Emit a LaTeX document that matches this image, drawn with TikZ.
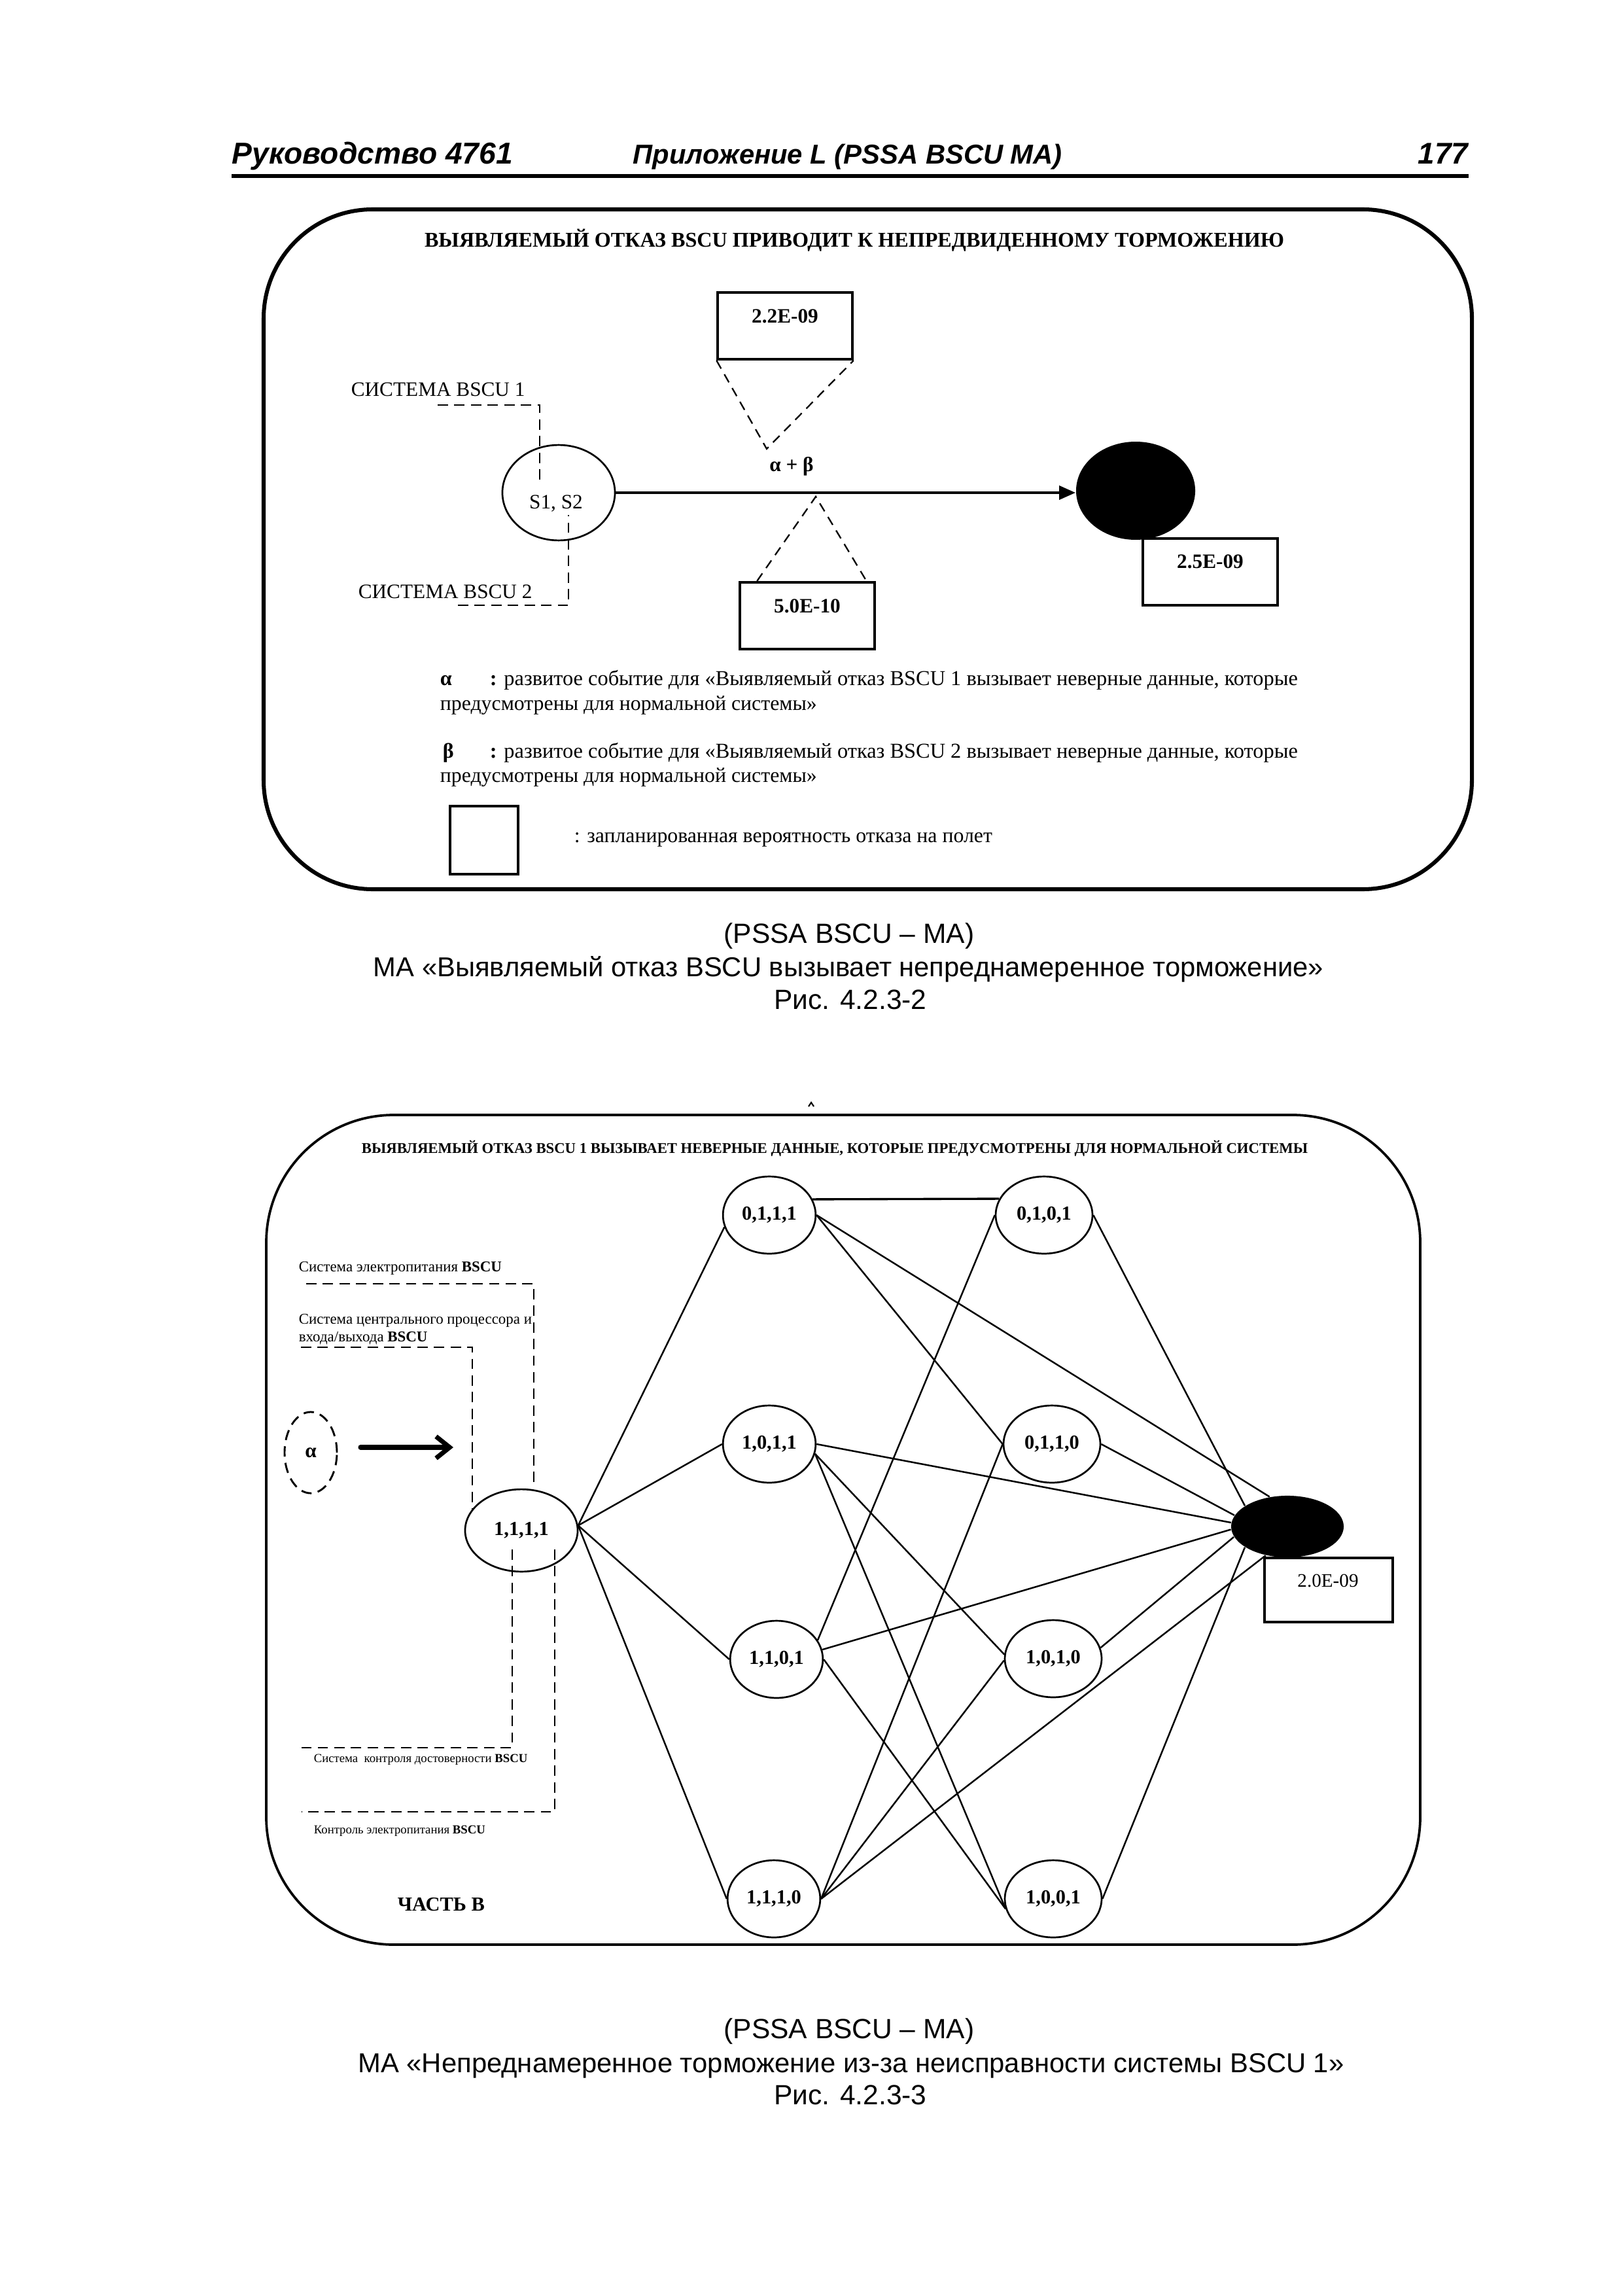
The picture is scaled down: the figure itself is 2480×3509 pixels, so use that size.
\documentclass[tikz,border=0pt]{standalone}
\usepackage{fontspec}
\usepackage{graphicx}
\setmainfont{Liberation Serif}
\newfontfamily\arialf{Liberation Sans}
\usetikzlibrary{arrows.meta,shapes.geometric}
\newlength{\pxu}\setlength{\pxu}{0.24pt}
\newcommand{\fitw}[2]{\resizebox{#1\pxu}{!}{#2}}
\newcommand{\fsz}[1]{\fontsize{#1}{#1}\selectfont}
\tikzset{
  pbox/.style={draw, rectangle, line width=0.85pt, inner sep=0pt, minimum width=49.4pt, minimum height=24.6pt},
  ell/.style={draw, ellipse, line width=0.65pt, inner sep=0pt},
  sysdash/.style={line width=0.7pt, dash pattern=on 3.8pt off 2.3pt},
  thindash/.style={line width=0.55pt, dash pattern=on 3.4pt off 2.4pt},
  lnk/.style={line width=0.6pt},
  txt/.style={inner sep=0pt, anchor=base west},
  ctxt/.style={inner sep=0pt, anchor=base},
  stnode/.style={draw, ellipse, line width=0.65pt, inner sep=0pt, minimum width=34pt, minimum height=28.3pt, font=\bfseries\fsz{7.3}},
  blacknode/.style={ellipse, fill=black, inner sep=0pt}
}
\begin{document}
\begin{tikzpicture}[x=0.24pt, y=-0.24pt]
\fill[white] (0,0) rectangle (2480,3509);
\useasboundingbox (0,0) rectangle (2480,3509);

% ---------- header ----------
\node[txt, font=\arialf\bfseries\itshape\fsz{11}] (h1) at (354,251) {\fitw{429}{Руководство 4761}};
\node[txt, font=\arialf\bfseries\itshape\fsz{11}] (h2) at (967,251) {\fitw{656}{Приложение L (PSSA BSCU MA)}};
\node[inner sep=0pt, anchor=base east, font=\arialf\bfseries\itshape\fsz{11}] (h3) at (2245,251) {177};
\coordinate (r1) at (354,269);
\coordinate (r2) at (2245,269);
\draw[line width=1.4pt] (r1) -- (r2);

% ---------- top figure ----------
\draw[line width=1.45pt, rounded corners=40pt] (403,320) rectangle (2250,1359);
\node[ctxt, font=\bfseries\fsz{7.6}] (t1) at (1306,378) {\fitw{1314}{ВЫЯВЛЯЕМЫЙ ОТКАЗ BSCU ПРИВОДИТ К НЕПРЕДВИДЕННОМУ ТОРМОЖЕНИЮ}};

\node[pbox] (p1) at (1200,498) {};
\node[ctxt, font=\bfseries\fsz{7.5}] (p1t) at (1200,494) {2.2E-09};
\node[pbox] (p2) at (1850,874) {};
\node[ctxt, font=\bfseries\fsz{7.5}] (p2t) at (1850,868) {2.5E-09};
\node[pbox] (p3) at (1234,941) {};
\node[ctxt, font=\bfseries\fsz{7.5}] (p3t) at (1234,936) {5.0E-10};

\node[ell, minimum width=41.3pt, minimum height=35pt] (s) at (854,753) {};
\node[ctxt, font=\fsz{7.5}] (st) at (850,778) {S1, S2};
\node[blacknode, minimum width=43.7pt, minimum height=36pt] (b) at (1736,750) {};
\draw[line width=1pt, -{Triangle[length=6pt,width=5pt]}] (s.east) -- (s.east -| b.west);

\coordinate (ap1) at (1172,686);
\draw[thindash] (p1.south west) -- (ap1) -- (p1.south east);
\node[ctxt, font=\bfseries\fsz{7.5}] (ab) at (1210,720) {α +\ β};
\coordinate (ap2) at (1247,759);
\draw[thindash] ([xshift=6.7pt]p3.north west) -- (ap2) -- ([xshift=-3.4pt]p3.north east);

\node[txt, font=\fsz{7.5}] (sy1) at (536,606) {СИСТЕМА BSCU 1};
\coordinate (sy1a) at (669,619);
\coordinate (sy1b) at (825,619);
\coordinate (sy1c) at (825,737);
\draw[sysdash] (sy1a) -- (sy1b) -- (sy1c);
\node[txt, font=\fsz{7.5}] (sy2) at (547,914) {СИСТЕМА BSCU 2};
\coordinate (sy2a) at (700,925);
\coordinate (sy2b) at (869,925);
\coordinate (sy2c) at (869,787);
\draw[sysdash] (sy2a) -- (sy2b) -- (sy2c);

% legend
\node[txt, font=\bfseries\fsz{7.7}] (la) at (672,1047) {α};
\node[txt, font=\fsz{7.7}] (la1) at (748,1047) {\fitw{1235}{\textbf{:} развитое событие для «Выявляемый отказ BSCU 1 вызывает неверные данные, которые}};
\node[txt, font=\fsz{7.7}] (la2) at (672,1085) {\fitw{576}{предусмотрены для нормальной системы»}};
\node[txt, font=\bfseries\fsz{7.7}] (lb) at (676,1158) {β};
\node[txt, font=\fsz{7.7}] (lb1) at (748,1158) {\fitw{1235}{\textbf{:} развитое событие для «Выявляемый отказ BSCU 2 вызывает неверные данные, которые}};
\node[txt, font=\fsz{7.7}] (lb2) at (672,1195) {\fitw{576}{предусмотрены для нормальной системы»}};
\node[draw, rectangle, line width=1.1pt, inner sep=0pt, minimum width=25pt, minimum height=25pt] (lbox) at (740,1284) {};
\node[txt, font=\fsz{7.7}] (lt) at (877,1287) {\fitw{639}{: запланированная вероятность отказа на полет}};

% captions 1
\node[ctxt, font=\arialf\fsz{10.2}] (c1) at (1298,1441) {(PSSA BSCU – MA)};
\node[ctxt, font=\arialf\fsz{10.2}] (c2) at (1297,1492) {\fitw{1452}{MA «Выявляемый отказ BSCU вызывает непреднамеренное торможение»}};
\node[ctxt, font=\arialf\fsz{10.2}] (c3) at (1300,1542) {Рис. 4.2.3-2};

% stray mark
\coordinate (m1) at (1236,1691);
\coordinate (m2) at (1240,1685);
\coordinate (m3) at (1244,1691);
\draw[line width=0.5pt] (m1) -- (m2) -- (m3);

% ---------- bottom figure ----------
\draw[line width=0.9pt, rounded corners=46.8pt] (407,1704) rectangle (2171,2972);
\node[ctxt, font=\bfseries\fsz{5.3}] (t2) at (1276,1762) {\fitw{1446}{ВЫЯВЛЯЕМЫЙ ОТКАЗ BSCU 1 ВЫЗЫВАЕТ НЕВЕРНЫЕ ДАННЫЕ, КОТОРЫЕ ПРЕДУСМОТРЕНЫ ДЛЯ НОРМАЛЬНОЙ СИСТЕМЫ}};

\node[stnode, minimum width=41.3pt, minimum height=30.2pt] (A) at (797,2339) {1,1,1,1};
\node[stnode] (B1) at (1176,1857) {0,1,1,1};
\node[stnode] (B2) at (1176,2207) {1,0,1,1};
\node[stnode] (B3) at (1187,2536) {1,1,0,1};
\node[stnode] (B4) at (1183,2902) {1,1,1,0};
\node[stnode, minimum width=35.5pt] (C1) at (1596,1857) {0,1,0,1};
\node[stnode, minimum width=35.5pt] (C2) at (1608,2207) {0,1,1,0};
\node[stnode, minimum width=35.5pt] (C3) at (1610,2535) {1,0,1,0};
\node[stnode, minimum width=35.5pt] (C4) at (1610,2902) {1,0,0,1};
\node[blacknode, minimum width=41.3pt, minimum height=22.6pt] (D) at (1968,2333) {};
\node[pbox, minimum width=47pt, minimum height=23.5pt] (q) at (2031,2430) {};
\node[ctxt, font=\fsz{7}] (qt) at (2030,2425) {2.0E-09};

% edges
\draw[lnk] (A.5) -- (B1.195);
\draw[lnk] (A.5) -- (B2.west);
\draw[lnk] (A.5) -- (B3.west);
\draw[lnk] (A.5) -- (B4.west);
\draw[line width=0.8pt] (B1.20) -- (C1.160);
\draw[lnk] (B1.east) -- (C2.west);
\draw[lnk] (B1.east) -- (D.121);
\draw[lnk] (C1.west) -- (B3.25);
\draw[lnk] (C1.east) -- (D.154);
\draw[lnk] (B2.east) -- (D.176);
\draw[lnk] (B2.-12) -- (C3.175);
\draw[lnk] (B2.-12) -- (C4.192);
\draw[lnk] (B3.12) -- (D.183);
\draw[lnk] (B3.east) -- (C4.192);
\draw[lnk] (B4.east) -- (C2.west);
\draw[lnk] (B4.east) -- (C3.182);
\draw[lnk] (B4.east) -- (D.233);
\draw[lnk] (C2.east) -- (D.168);
\draw[lnk] (C3.13) -- (D.191);
\draw[lnk] (C4.east) -- (D.206);

% alpha event
\node[draw, ellipse, sysdash, inner sep=0pt, minimum width=19.2pt, minimum height=29.8pt, font=\bfseries\fsz{7.5}] (al) at (475,2220) {α};
\coordinate (ar1) at (551,2212);
\coordinate (ar2) at (693,2212);
\draw[line width=1.7pt, line cap=round, -{Straight Barb[length=5pt,width=8pt]}] (ar1) -- (ar2);

% system lines
\node[txt, font=\fsz{5.5}] (e1) at (456,1943) {Система электропитания \textbf{BSCU}};
\coordinate (e1a) at (468,1962);
\coordinate (e1b) at (816,1962);
\draw[sysdash] (e1a) -- (e1b) -- (e1b |- A.north);
\node[txt, font=\fsz{5.5}] (e2) at (456,2023) {Система центрального процессора и};
\node[txt, font=\fsz{5.5}] (e2b) at (456,2050) {входа/выхода \textbf{BSCU}};
\coordinate (e2a) at (460,2059);
\coordinate (e2c) at (722,2059);
\coordinate (e2d) at (722,2309);
\draw[sysdash] (e2a) -- (e2c) -- (e2d);

\coordinate (f1a) at (783,2368);
\coordinate (f1b) at (783,2671);
\coordinate (f1c) at (461,2671);
\draw[sysdash] (f1a) -- (f1b) -- (f1c);
\node[txt, font=\fsz{4.5}] (f1) at (479,2693) {Система\ \ контроля достоверности \textbf{BSCU}};
\coordinate (f2a) at (848,2368);
\coordinate (f2b) at (848,2769);
\coordinate (f2c) at (461,2769);
\draw[sysdash] (f2a) -- (f2b) -- (f2c);
\node[txt, font=\fsz{4.5}] (f2) at (479,2802) {Контроль электропитания \textbf{BSCU}};
\node[txt, font=\bfseries\fsz{7.3}] (part) at (607,2920) {ЧАСТЬ В};

% captions 2
\node[ctxt, font=\arialf\fsz{10.2}] (c4) at (1298,3115) {(PSSA BSCU – MA)};
\node[ctxt, font=\arialf\fsz{10.2}] (c5) at (1301,3167) {\fitw{1507}{MA «Непреднамеренное торможение из-за неисправности системы BSCU 1»}};
\node[ctxt, font=\arialf\fsz{10.2}] (c6) at (1300,3216) {Рис. 4.2.3-3};
\end{tikzpicture}
\end{document}
